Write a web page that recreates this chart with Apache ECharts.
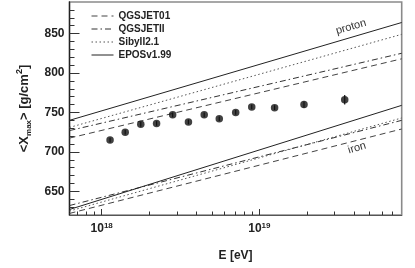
<!DOCTYPE html>
<html>
<head>
<meta charset="utf-8">
<script src="https://cdn.jsdelivr.net/npm/echarts@6/dist/echarts.min.js"></script>
<style>
html,body{margin:0;padding:0;background:#fff;}
#c{width:415px;height:268px;}
</style>
</head>
<body>
<div id="c"></div>
<script>
// Measured data (Auger-like <Xmax> vs energy)
const energies = [1.13e18, 1.41e18, 1.77e18, 2.23e18, 2.82e18, 3.55e18, 4.47e18, 5.57e18, 7.08e18, 8.95e18, 1.25e19, 1.92e19, 3.48e19];
const xmaxValues = [715, 725, 735, 736, 747, 738, 747, 742, 750, 757, 756, 760, 766];
const xmaxErrors = [3, 3, 3, 3, 3, 3, 3, 3, 3, 3, 3, 4, 6];

// Model predictions (straight lines in log E), values at the two plot edges
const lineEnergies = [6.25e17, 8e19];
const qgsjet01Proton = [717.5, 818];
const qgsjetIIProton = [727, 825];
const sibyllProton = [731, 849];
const eposProton = [740, 864];
const qgsjet01Iron = [622, 729];
const qgsjetIIIron = [632, 740];
const sibyllIron = [625, 743];
const eposIron = [627, 759];

// Axis ticks
const xMajorTicks = [1e18, 1e19];
const xMinorTicks = [7e17, 8e17, 9e17, 2e18, 3e18, 4e18, 5e18, 6e18, 7e18, 8e18, 9e18, 2e19, 3e19, 4e19, 5e19, 6e19, 7e19];
const yMajorTicks = [650, 700, 750, 800, 850];
const yMinorTicks = [630, 640, 660, 670, 680, 690, 710, 720, 730, 740, 760, 770, 780, 790, 810, 820, 830, 840, 860, 870, 880];

const models = [
  {name: 'QGSJET01', proton: qgsjet01Proton, iron: qgsjet01Iron, type: [6, 4], color: '#444'},
  {name: 'QGSJETII', proton: qgsjetIIProton, iron: qgsjetIIIron, type: [6, 3, 1.5, 3], color: '#333'},
  {name: 'SibyII2.1', proton: sibyllProton, iron: sibyllIron, type: [1.5, 2.5], color: '#555'},
  {name: 'EPOSv1.99', proton: eposProton, iron: eposIron, type: 'solid', color: '#222'}
];

const FONT = 'Liberation Sans, Arial, sans-serif';
const chart = echarts.init(document.getElementById('c'), null, {renderer: 'canvas'});

const series = [];
models.forEach(m => {
  ['proton', 'iron'].forEach(k => {
    series.push({
      name: m.name, type: 'line', symbol: 'none', silent: true,
      lineStyle: {color: m.color, width: 1, type: m.type},
      itemStyle: {color: m.color},
      data: lineEnergies.map((e, i) => [e, m[k][i]]),
      z: 2
    });
  });
});

series.push({
  type: 'custom', name: 'err',
  data: energies.map((e, i) => [e, xmaxValues[i], xmaxErrors[i]]),
  encode: {x: 0, y: 1},
  renderItem: function (params, api) {
    const x = api.value(0), y = api.value(1), err = api.value(2);
    const lo = api.coord([x, y - err]);
    const hi = api.coord([x, y + err]);
    return {type: 'line', shape: {x1: lo[0], y1: lo[1], x2: hi[0], y2: hi[1]},
      style: {stroke: '#111', lineWidth: 1.2}};
  },
  z: 3
});

series.push({
  type: 'scatter', name: 'data',
  data: energies.map((e, i) => [e, xmaxValues[i]]),
  symbol: 'circle', symbolSize: 7.5,
  itemStyle: {color: '#111'},
  z: 4
});

const option = {
  animation: false,
  backgroundColor: '#fff',
  grid: {left: 69.5, right: 13.3, top: 2, bottom: 53, show: true, borderColor: '#8a8a8a', borderWidth: 1.6, containLabel: false},
  legend: {
    data: models.map(m => m.name),
    orient: 'vertical', left: 86, top: 6,
    itemWidth: 22, itemHeight: 8, itemGap: 3,
    itemStyle: {opacity: 0, color: 'rgba(0,0,0,0)', borderWidth: 0},
    lineStyle: {width: 1},
    textStyle: {fontFamily: FONT, fontSize: 10, fontWeight: 'bold', color: '#222'},
    selectedMode: false
  },
  xAxis: [
    {
      type: 'log', logBase: 10, min: 6.25e17, max: 8e19,
      axisLine: {show: true, onZero: false, lineStyle: {color: '#555', width: 1}},
      axisTick: {show: true, inside: true, length: 6, customValues: xMajorTicks, lineStyle: {color: '#333'}},
      minorTick: {show: false},
      splitLine: {show: false},
      axisLabel: {
        customValues: xMajorTicks, margin: 7,
        formatter: v => '{b|10}{s|' + Math.round(Math.log10(v)) + '}',
        rich: {
          b: {fontFamily: FONT, fontSize: 12, fontWeight: 'bold', color: '#222'},
          s: {fontFamily: FONT, fontSize: 8, fontWeight: 'bold', color: '#222', verticalAlign: 'top', padding: [0, 0, 6, 0]}
        }
      },
      name: 'E [eV]', nameLocation: 'middle', nameGap: 35,
      nameTextStyle: {fontFamily: FONT, fontSize: 12, fontWeight: 'bold', color: '#222'}
    },
    {
      type: 'log', logBase: 10, min: 6.25e17, max: 8e19, position: 'bottom',
      axisLine: {show: false},
      axisTick: {show: true, inside: true, length: 3.5, customValues: xMinorTicks, lineStyle: {color: '#333'}},
      axisLabel: {show: false},
      splitLine: {show: false}
    }
  ],
  yAxis: [
    {
      type: 'value', min: 620, max: 890, position: 'left',
      axisLine: {show: true, onZero: false, lineStyle: {color: '#222', width: 1.3}},
      axisTick: {show: true, inside: true, length: 10, customValues: yMajorTicks, lineStyle: {color: '#333'}},
      splitLine: {show: false},
      axisLabel: {customValues: yMajorTicks, margin: 5, fontFamily: FONT, fontSize: 12, fontWeight: 'bold', color: '#222'},
      name: '<X{sub|max}> [g/cm{sup|2}]', nameLocation: 'middle', nameGap: 37, nameRotate: 90,
      nameTextStyle: {
        fontFamily: FONT, fontSize: 13, fontWeight: 'bold', color: '#222', lineHeight: 17,
        rich: {
          sub: {fontFamily: FONT, fontSize: 8, fontWeight: 'bold', color: '#222', verticalAlign: 'bottom', padding: [5, 0, 0, 0]},
          sup: {fontFamily: FONT, fontSize: 9, fontWeight: 'bold', color: '#222', verticalAlign: 'top', padding: [0, 0, 6, 0]}
        }
      }
    },
    {
      type: 'value', min: 620, max: 890, position: 'left',
      axisLine: {show: false},
      axisTick: {show: true, inside: true, length: 5, customValues: yMinorTicks, lineStyle: {color: '#333'}},
      axisLabel: {show: false},
      splitLine: {show: false}
    }
  ],
  series: series,
  graphic: [
    {type: 'text', x: 351, y: 27, rotation: 0.29, z: 10,
      style: {text: 'proton', font: '11px ' + FONT, fill: '#333', align: 'center', verticalAlign: 'middle'}},
    {type: 'text', x: 357, y: 148, rotation: 0.29, z: 10,
      style: {text: 'iron', font: '11px ' + FONT, fill: '#333', align: 'center', verticalAlign: 'middle'}}
  ]
};
chart.setOption(option);
</script>
</body>
</html>
